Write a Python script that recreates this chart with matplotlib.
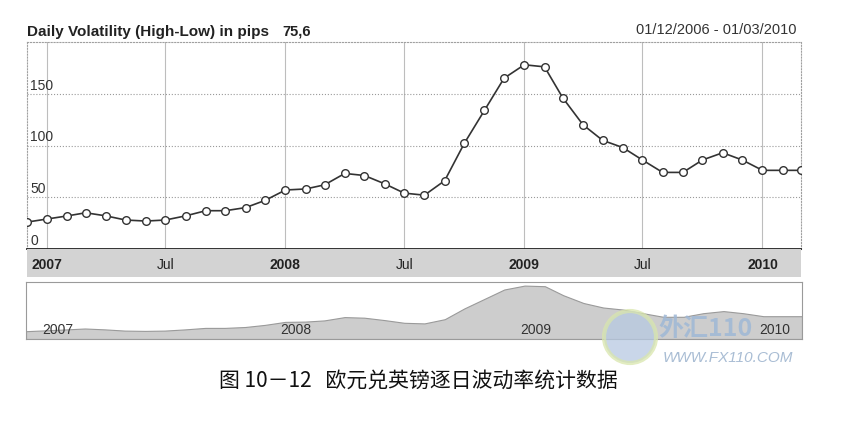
import matplotlib
matplotlib.use('Agg')
import matplotlib.pyplot as plt
import matplotlib.transforms as mtransforms
from matplotlib.patches import Ellipse
import pandas as pd

# ---- data (monthly average daily range, pips) ----
months = pd.date_range('2006-12-01', '2010-03-01', freq='MS')
volatility = [26, 29, 32, 35, 32, 28, 27, 28, 32, 37, 37, 40, 47,
              57, 58, 62, 73, 71, 63, 54, 52, 66, 102, 134, 165,
              178, 176, 146, 120, 105, 98, 86, 74, 74, 86, 93, 86,
              76, 76, 76]
y_ticks = [0, 50, 100, 150]
x_tick_dates = pd.to_datetime(['2007-01-01', '2007-07-01', '2008-01-01', '2008-07-01',
                               '2009-01-01', '2009-07-01', '2010-01-01'])
x_tick_labels = ['2007', 'Jul', '2008', 'Jul', '2009', 'Jul', '2010']
overview_dates = pd.to_datetime(['2007-01-18', '2008-01-18', '2009-01-18', '2010-01-18'])
overview_labels = ['2007', '2008', '2009', '2010']

title = 'Daily Volatility (High-Low) in pips'
last_value = '75,6'
date_range = '01/12/2006 - 01/03/2010'
caption = '图 10－12   欧元兑英镑逐日波动率统计数据'

plt.rcParams['font.family'] = ['Liberation Sans', 'DejaVu Sans']

W, H = 858, 431
fig = plt.figure(figsize=(W / 100, H / 100), dpi=100)

def box(x0, y0, x1, y1):
    # pixel box (top-left origin) -> figure fractions
    return [x0 / W, 1 - y1 / H, (x1 - x0) / W, (y1 - y0) / H]

# ---- main chart ----
ax = fig.add_axes(box(27, 43, 801, 250))
for d in x_tick_dates:
    ax.axvline(d, color='#bdbdbd', lw=0.8, zorder=0)
for y in y_ticks[1:]:
    ax.axhline(y, color='#9a9a9a', lw=0.8, ls=':', zorder=0)
ax.plot(months, volatility, color='#333333', lw=1.2, marker='o', ms=5.5,
        mfc='white', mec='#333333', mew=1.0, zorder=3)
ax.set_xlim(months[0], months[-1])
ax.set_ylim(0, 200)
ax.set_xticks([])
ax.set_yticks([])
trans = mtransforms.blended_transform_factory(ax.transAxes, ax.transData)
for y in y_ticks:
    ax.text(0.004, y + 2, str(y), transform=trans, fontsize=10,
            color='#333333', va='bottom', ha='left')
for side in ['left', 'top', 'right']:
    ax.spines[side].set_color('#a0a0a0')
    ax.spines[side].set_linestyle(':')
    ax.spines[side].set_linewidth(0.8)
ax.spines['bottom'].set_color('#222222')
ax.spines['bottom'].set_linewidth(1.3)

# ---- date band under the chart ----
band = fig.add_axes(box(27, 250, 801, 278))
band.set_facecolor('#d3d3d3')
band.set_xlim(months[0], months[-1])
band.set_ylim(0, 1)
band.set_xticks([])
band.set_yticks([])
for s in band.spines.values():
    s.set_visible(False)
for d, lab in zip(x_tick_dates, x_tick_labels):
    band.text(d, 0.45, lab, ha='center', va='center', fontsize=10, color='#222222',
              fontweight='normal' if lab == 'Jul' else 'bold')

# ---- overview strip ----
ov = fig.add_axes(box(26, 283, 802, 340))
ov.fill_between(months, volatility, color='#cdcdcd', edgecolor='#9a9a9a', lw=0.8)
ov.set_xlim(months[0], months[-1])
ov.set_ylim(0, 190)
ov.set_xticks([])
ov.set_yticks([])
for s in ov.spines.values():
    s.set_color('#9a9a9a')
    s.set_linewidth(0.8)
for d, lab in zip(overview_dates, overview_labels):
    ov.text(d, 0.18, lab, transform=mtransforms.blended_transform_factory(ov.transData, ov.transAxes),
            ha='center', va='center', fontsize=10, color='#333333')

# ---- header texts ----
fig.text(27 / W, 1 - 32 / H, title, fontsize=11, fontweight='bold', color='#222222', va='center')
fig.text(282 / W, 1 - 32 / H, last_value, fontsize=10.5, fontweight='bold', color='#222222', va='center')
fig.text(796 / W, 1 - 30 / H, date_range, fontsize=10.5, color='#333333', va='center', ha='right')

# ---- watermark ----
fig.patches.append(Ellipse((630 / W, 1 - 338 / H), 52 / W, 52 / H, transform=fig.transFigure,
                           facecolor='#b7c9e2', edgecolor='#d9e6ad', lw=3, alpha=0.75))
fig.text(658 / W, 1 - 329 / H, '外汇110', fontsize=18, fontweight='bold', style='italic',
         color='#9fb8d6', alpha=0.85, va='center', family=['Noto Sans CJK SC', 'DejaVu Sans'])
fig.text(663 / W, 1 - 358 / H, 'WWW.FX110.COM', fontsize=11, style='italic', color='#a9bdd4', va='center')

# ---- caption ----
fig.text(418 / W, 1 - 381 / H, caption, fontsize=15, ha='center', va='center',
         color='#111111', family=['Noto Sans CJK SC', 'DejaVu Sans'])

fig.savefig('out.png', dpi=100, facecolor='white')
